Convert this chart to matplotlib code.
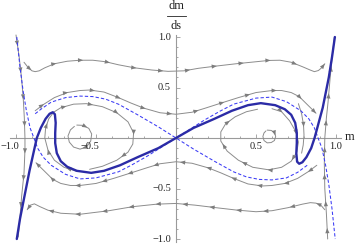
import numpy as np
import matplotlib
matplotlib.use("Agg")
import matplotlib.pyplot as plt
from matplotlib.patches import Polygon
from matplotlib.transforms import offset_copy

# ---------------- data ----------------
# thick blue curve
T_x = [-0.995, -0.975, -0.95, -0.915, -0.87, -0.845, -0.815, -0.79, -0.77, -0.757, -0.752, -0.755, -0.755,
       -0.745, -0.72, -0.68, -0.62, -0.53, -0.45, -0.35, -0.24, -0.11, 0.0, 0.11, 0.24, 0.35, 0.45, 0.53,
       0.62, 0.68, 0.72, 0.745, 0.755, 0.755, 0.752, 0.757, 0.77, 0.79, 0.815, 0.845, 0.866, 0.917, 0.955,
       0.975, 0.993]
T_y = [-1.0, -0.8, -0.6, -0.32, 0.0, 0.10, 0.19, 0.24, 0.255, 0.235, 0.15, 0.05, -0.05,
       -0.15, -0.23, -0.285, -0.325, -0.345, -0.325, -0.27, -0.19, -0.10, 0.0, 0.10, 0.19, 0.27, 0.325, 0.345,
       0.325, 0.285, 0.23, 0.15, 0.05, -0.05, -0.15, -0.235, -0.255, -0.24, -0.19, -0.10, 0.0, 0.30, 0.6,
       0.8, 1.0]

# dashed blue curves
D1_x = [-0.995, -0.975, -0.955, -0.935, -0.912, -0.888, -0.865, -0.83, -0.78, -0.69, -0.6, -0.5, -0.36,
        -0.28, -0.18, -0.08, 0.0, 0.08, 0.18, 0.28, 0.36, 0.5, 0.6, 0.69, 0.78, 0.83, 0.865, 0.888, 0.912,
        0.935, 0.955, 0.975, 0.995]
D1_y = [1.0, 0.7, 0.46, 0.27, 0.10, 0.0, -0.10, -0.19, -0.27, -0.36, -0.405, -0.395, -0.335,
        -0.27, -0.18, -0.08, 0.0, 0.08, 0.18, 0.27, 0.335, 0.395, 0.405, 0.36, 0.27, 0.19, 0.10, 0.0, -0.10,
        -0.27, -0.46, -0.7, -1.0]
D2_x = [-0.88, -0.84, -0.78, -0.69, -0.6, -0.52, -0.44, -0.36, -0.24, -0.11, 0.0, 0.11, 0.24, 0.36, 0.44,
        0.52, 0.6, 0.69, 0.76, 0.82]
D2_y = [0.24, 0.29, 0.355, 0.40, 0.415, 0.41, 0.385, 0.335, 0.23, 0.11, 0.0, -0.11, -0.23, -0.335, -0.385,
        -0.41, -0.415, -0.395, -0.34, -0.27]

# gray stream lines
G1_x = [-0.95, -0.925, -0.9, -0.88, -0.855, -0.82, -0.76, -0.68, -0.6, -0.52, -0.44, -0.36, -0.26, -0.15,
        -0.05, 0.05, 0.14, 0.25, 0.375, 0.5, 0.58, 0.65, 0.72, 0.79, 0.84, 0.865, 0.89, 0.91, 0.93]
G1_y = [0.75, 0.70, 0.665, 0.657, 0.665, 0.695, 0.735, 0.76, 0.77, 0.77, 0.755, 0.725, 0.695, 0.673,
        0.66, 0.665, 0.69, 0.712, 0.735, 0.755, 0.768, 0.77, 0.75, 0.706, 0.672, 0.657, 0.668, 0.695, 0.735]
G2_x = [0.93, 0.905, 0.875, 0.84, 0.79, 0.7, 0.6, 0.5, 0.375, 0.25, 0.12, 0.0, -0.12, -0.27, -0.42, -0.6,
        -0.72, -0.8, -0.85, -0.885, -0.91, -0.93]
G2_y = [-0.71, -0.665, -0.645, -0.64, -0.655, -0.69, -0.72, -0.73, -0.713, -0.69, -0.665, -0.648, -0.655,
        -0.68, -0.72, -0.755, -0.745, -0.715, -0.68, -0.652, -0.665, -0.71]
G3_x = [-0.88, -0.83, -0.76, -0.68, -0.6, -0.54, -0.45, -0.36, -0.28, -0.2, -0.1, 0.0, 0.1, 0.18, 0.29,
        0.39, 0.5, 0.6, 0.66, 0.72, 0.77, 0.823, 0.85, 0.875]
G3_y = [0.27, 0.33, 0.40, 0.45, 0.47, 0.475, 0.455, 0.40, 0.345, 0.295, 0.25, 0.235, 0.255, 0.294, 0.35,
        0.40, 0.45, 0.47, 0.47, 0.45, 0.41, 0.327, 0.285, 0.245]
G4_x = [0.88, 0.83, 0.76, 0.68, 0.6, 0.54, 0.45, 0.36, 0.28, 0.2, 0.1, 0.0, -0.1, -0.18, -0.29, -0.39,
        -0.5, -0.6, -0.66, -0.72, -0.77, -0.823, -0.85, -0.875]
G4_y = [-0.27, -0.33, -0.40, -0.45, -0.47, -0.475, -0.455, -0.40, -0.345, -0.295, -0.25, -0.235, -0.255,
        -0.294, -0.35, -0.40, -0.45, -0.47, -0.47, -0.45, -0.41, -0.327, -0.285, -0.245]
G5_x = [-0.62, -0.70, -0.76, -0.80, -0.82, -0.815, -0.795, -0.765, -0.72, -0.64, -0.56, -0.46, -0.37, -0.30,
        -0.265, -0.27, -0.30, -0.37, -0.46, -0.54]
G5_y = [-0.33, -0.29, -0.22, -0.12, 0.0, 0.10, 0.19, 0.255, 0.30, 0.335, 0.34, 0.31, 0.25, 0.16,
        0.05, -0.06, -0.14, -0.22, -0.28, -0.31]
G6_x = [0.60, 0.66, 0.71, 0.75, 0.765, 0.755, 0.72, 0.66, 0.58, 0.48, 0.39, 0.32, 0.28, 0.28, 0.31, 0.37,
        0.44, 0.51]
G6_y = [0.29, 0.26, 0.17, 0.06, -0.04, -0.14, -0.23, -0.29, -0.315, -0.29, -0.22, -0.13, -0.03, 0.06, 0.14,
        0.21, 0.26, 0.285]
G7_x = [0.765, 0.785, 0.797, 0.80, 0.795, 0.785]
G7_y = [0.34, 0.24, 0.13, 0.03, -0.07, -0.15]
C1_x = [-0.62, -0.58, -0.545, -0.527, -0.533, -0.56, -0.6, -0.64, -0.667, -0.675, -0.66, -0.635]
C1_y = [0.128, 0.125, 0.095, 0.04, -0.03, -0.09, -0.11, -0.09, -0.04, 0.02, 0.08, 0.115]
C2_x = [0.57, 0.595, 0.615, 0.623, 0.615, 0.595, 0.57, 0.55, 0.543, 0.55, 0.562]
C2_y = [0.078, 0.075, 0.055, 0.015, -0.025, -0.045, -0.048, -0.025, 0.015, 0.05, 0.07]
VL_x = [-1.0, -0.98, -0.966, -0.955, -0.948, -0.944, -0.944, -0.95, -0.965, -0.975, -0.986]
VL_y = [1.02, 0.80, 0.60, 0.40, 0.2, 0.0, -0.12, -0.35, -0.58, -0.78, -0.98]
VR_x = [0.948, 0.94, 0.93, 0.927, 0.93, 0.94, 0.95, 0.962, 0.975, 0.99]
VR_y = [-1.0, -0.75, -0.5, -0.25, 0.0, 0.2, 0.35, 0.57, 0.79, 1.0]

x_ticks = [-1.0, -0.5, 0.5, 1.0]
x_tick_labels = ["\u22121.0", "\u22120.5", "0.5", "1.0"]
y_ticks = [-1.0, -0.5, 0.5, 1.0]
y_tick_labels = ["\u22121.0", "\u22120.5", "0.5", "1.0"]
minor_ticks = [-0.9, -0.8, -0.7, -0.6, -0.4, -0.3, -0.2, -0.1, 0.1, 0.2, 0.3, 0.4, 0.6, 0.7, 0.8, 0.9]

# ---------------- figure ----------------
W, H = 356, 245
fig = plt.figure(figsize=(W / 100, H / 100), dpi=100)
ax = fig.add_axes([0, 0, 1, 1])
X0, SX = 176, 160.0
Y0, SY = 138, 101.0
ax.set_xlim(-X0 / SX, (W - X0) / SX)
ax.set_ylim(-(H - Y0) / SY, Y0 / SY)
ax.patch.set_visible(False)

AXC = "#9a9a9a"
for s in ("top", "right"):
    ax.spines[s].set_visible(False)
ax.spines["left"].set_position(("data", 0))
ax.spines["bottom"].set_position(("data", 0))
ax.spines["left"].set_bounds(-1.03, 1.02)
ax.spines["bottom"].set_bounds(-1.035, 1.03)
for s in ("left", "bottom"):
    ax.spines[s].set_color(AXC)
    ax.spines[s].set_linewidth(0.8)
    ax.spines[s].set_zorder(0.5)
ax.set_xticks(x_ticks)
ax.set_yticks(y_ticks)
ax.set_xticks(minor_ticks, minor=True)
ax.set_yticks(minor_ticks, minor=True)
ax.tick_params(which="both", direction="in", color=AXC, width=0.6, labelbottom=False, labelleft=False)
ax.tick_params(which="major", length=3.0)
ax.tick_params(which="minor", length=1.6)

SERIF = ["Liberation Serif", "DejaVu Serif"]
TXT = "#222222"
for v, lab in zip(x_ticks, x_tick_labels):
    if v < 0:
        tr = offset_copy(ax.transData, fig=fig, x=3, y=-8, units="dots")
        ax.text(v, 0, lab, transform=tr, ha="right", va="center", fontsize=7.5, family=SERIF, color=TXT)
    else:
        tr = offset_copy(ax.transData, fig=fig, x=0, y=-8, units="dots")
        ax.text(v, 0, lab, transform=tr, ha="center", va="center", fontsize=7.5, family=SERIF, color=TXT)
for v, lab in zip(y_ticks, y_tick_labels):
    tr = offset_copy(ax.transData, fig=fig, x=-5, y=0, units="dots")
    ax.text(0, v, lab, transform=tr, ha="right", va="center", fontsize=7.5, family=SERIF, color=TXT)

# axis labels
ax.text(345, H - 140, "m", transform=None, ha="left", va="baseline", fontsize=9, family=SERIF, color=TXT)
ax.text(176.5, H - 9, "dm", transform=None, ha="center", va="baseline", fontsize=9, family=SERIF, color=TXT)
ax.text(176.5, H - 29, "ds", transform=None, ha="center", va="baseline", fontsize=9, family=SERIF, color=TXT)
ax.plot([167, 186], [H - 15.5, H - 15.5], transform=None, color=TXT, lw=0.6)

GRAY = "#8c8c8c"
AGRAY = "#7d7d7d"


def arrows(x, y, spacing=27.0, start=11.0, size=5.2, width=2.1, end=True):
    pts = ax.transData.transform(np.column_stack([x, y]))
    seg = np.diff(pts, axis=0)
    seglen = np.hypot(seg[:, 0], seg[:, 1])
    cum = np.concatenate([[0.0], np.cumsum(seglen)])
    L = cum[-1]
    pos = list(np.arange(start, L - 8, spacing))
    if end:
        pos.append(L)
    inv = ax.transData.inverted()
    for s in pos:
        i = int(np.clip(np.searchsorted(cum, s) - 1, 0, len(seg) - 1))
        t = (s - cum[i]) / seglen[i]
        p = pts[i] + t * seg[i]
        d = seg[i] / seglen[i]
        n = np.array([-d[1], d[0]])
        base = p - d * size
        tri = np.array([p, base + n * width, base - n * width])
        ax.add_patch(Polygon(inv.transform(tri), closed=True, fc=AGRAY, ec="none", zorder=2.5))


gray_lines = [
    (G1_x, G1_y, True, 11.0), (G2_x, G2_y, True, 11.0), (G3_x, G3_y, True, 11.0), (G4_x, G4_y, True, 11.0),
    (G5_x, G5_y, False, 11.0), (G6_x, G6_y, False, 11.0), (G7_x, G7_y, False, 24.0),
    (C1_x, C1_y, False, 11.0), (C2_x, C2_y, False, 11.0),
    (VL_x, VL_y, False, 11.0), (VR_x, VR_y, False, 11.0),
]
for gx, gy, e, st in gray_lines:
    ax.plot(gx, gy, color=GRAY, lw=0.7, zorder=2, solid_capstyle="round")
    arrows(gx, gy, end=e, start=st)

ax.plot(D1_x, D1_y, color="#3a3af5", lw=0.75, dashes=(3.2, 2.0), zorder=3)
ax.plot(D2_x, D2_y, color="#3a3af5", lw=0.75, dashes=(3.2, 2.0), zorder=3)
ax.plot(T_x, T_y, color="#2b2ba6", lw=1.7, zorder=4, solid_joinstyle="round", solid_capstyle="round")

fig.savefig("out.png", dpi=100)
